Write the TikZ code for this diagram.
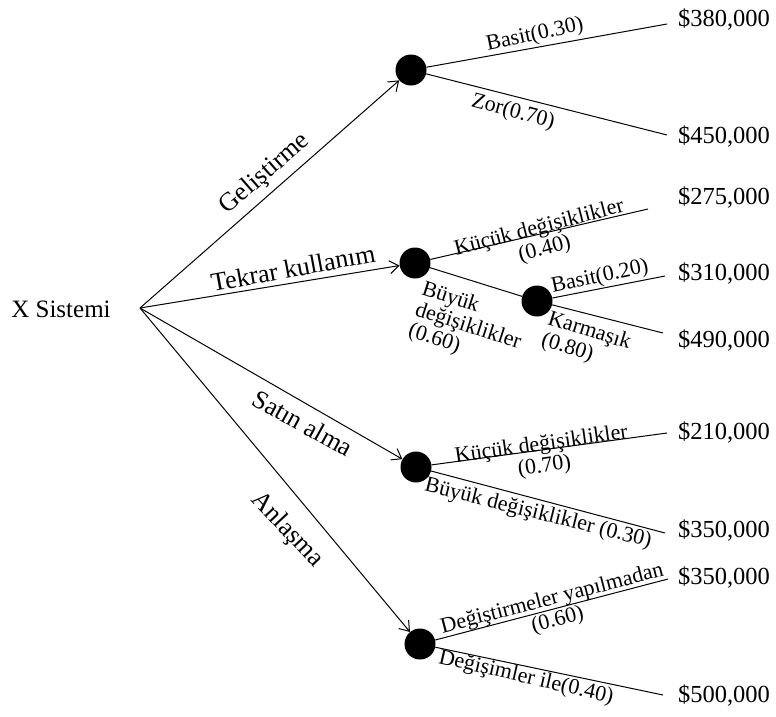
\documentclass[tikz,border=0pt]{standalone}
\usepackage{fontspec}
\setmainfont{Liberation Serif}
\usetikzlibrary{arrows.meta}
\begin{document}
\begin{tikzpicture}[x=1pt,y=-1pt,
  branch/.style={line width=1pt},
  arr/.style={line width=1pt,-{Straight Barb[length=9pt,width=13pt,line width=1pt]}},
  chance/.style={circle,fill=black,minimum size=31pt,inner sep=0pt},
  val/.style={font=\fontsize{24.5}{28}\selectfont,inner sep=0pt},
  root/.style={font=\fontsize{25}{28}\selectfont,inner sep=0pt},
  mainlab/.style={font=\fontsize{26}{28}\selectfont,inner sep=0pt},
  lab/.style={font=\fontsize{22}{22}\selectfont,inner sep=0pt},
  mlab/.style={lab,align=center},
  llab/.style={lab,align=left}]
\useasboundingbox (0,0) rectangle (776,716);

% root decision
\node[root] (rootnode) at (61,309) {X Sistemi};
\coordinate (o) at (140,308);

% chance nodes
\node[chance] (n1) at (411,70) {};
\node[chance] (n2) at (415,263) {};
\node[chance] (n3) at (537,301) {};
\node[chance] (n4) at (416,467) {};
\node[chance] (n5) at (420,644) {};

% outcome values and line ends
\node[val] (v1) at (724,20) {\$380,000};
\node[val] (v2) at (724,137) {\$450,000};
\node[val] (v3) at (724,198) {\$275,000};
\node[val] (v4) at (724,274) {\$310,000};
\node[val] (v5) at (724,341) {\$490,000};
\node[val] (v6) at (724,433) {\$210,000};
\node[val] (v7) at (724,531) {\$350,000};
\node[val] (v8) at (724,578) {\$350,000};
\node[val] (v9) at (724,695) {\$500,000};
\coordinate (e1) at (667,24);
\coordinate (e2) at (667,135);
\coordinate (e3) at (648,209);
\coordinate (e4) at (665,276);
\coordinate (e5) at (663,333);
\coordinate (e6) at (667,433);
\coordinate (e7) at (665,533);
\coordinate (e8) at (668,579);
\coordinate (e9) at (663,695);

% decision branches
\draw[arr] (o) -- (n1);
\draw[arr] (o) -- (n2);
\draw[arr] (o) -- (n4);
\draw[arr] (o) -- (n5);

% chance branches
\draw[branch] (n1) -- (e1);
\draw[branch] (n1) -- (e2);
\draw[branch] (n2) -- (e3);
\draw[branch] (n2) -- (n3);
\draw[branch] (n3) -- (e4);
\draw[branch] (n3) -- (e5);
\draw[branch] (n4) -- (e6);
\draw[branch] (n4) -- (e7);
\draw[branch] (n5) -- (e8);
\draw[branch] (n5) -- (e9);

% branch labels
\node[mainlab,rotate=41] (l1) at (265,174) {Geliştirme};
\node[mainlab,rotate=10.5] (l2) at (293,268) {Tekrar kullanım};
\node[mainlab,rotate=-29] (l3) at (303,423) {Satın alma};
\node[mainlab,rotate=-47] (l4) at (287,530) {Anlaşma};

\node[lab,rotate=12] (l5) at (535,35) {Basit(0.30)};
\node[lab,rotate=-15] (l6) at (513,112) {Zor(0.70)};
\node[mlab,rotate=14.5] (l7) at (542,239) {Küçük değişiklikler\\(0.40)};
\node[llab,rotate=-18] (l8) at (468,327) {Büyük\\değişiklikler\\(0.60)};
\node[lab,rotate=12] (l9) at (600,277) {Basit(0.20)};
\node[llab,rotate=-17] (l10) at (586,342) {Karmaşık\\(0.80)};
\node[mlab,rotate=8] (l11) at (543,456) {Küçük değişiklikler\\(0.70)};
\node[lab,rotate=-14] (l12) at (538,514) {Büyük değişiklikler (0.30)};
\node[mlab,rotate=14.5] (l13) at (555,610) {Değiştirmeler yapılmadan\\(0.60)};
\node[lab,rotate=-13] (l14) at (526,678) {Değişimler ile(0.40)};
\end{tikzpicture}
\end{document}
